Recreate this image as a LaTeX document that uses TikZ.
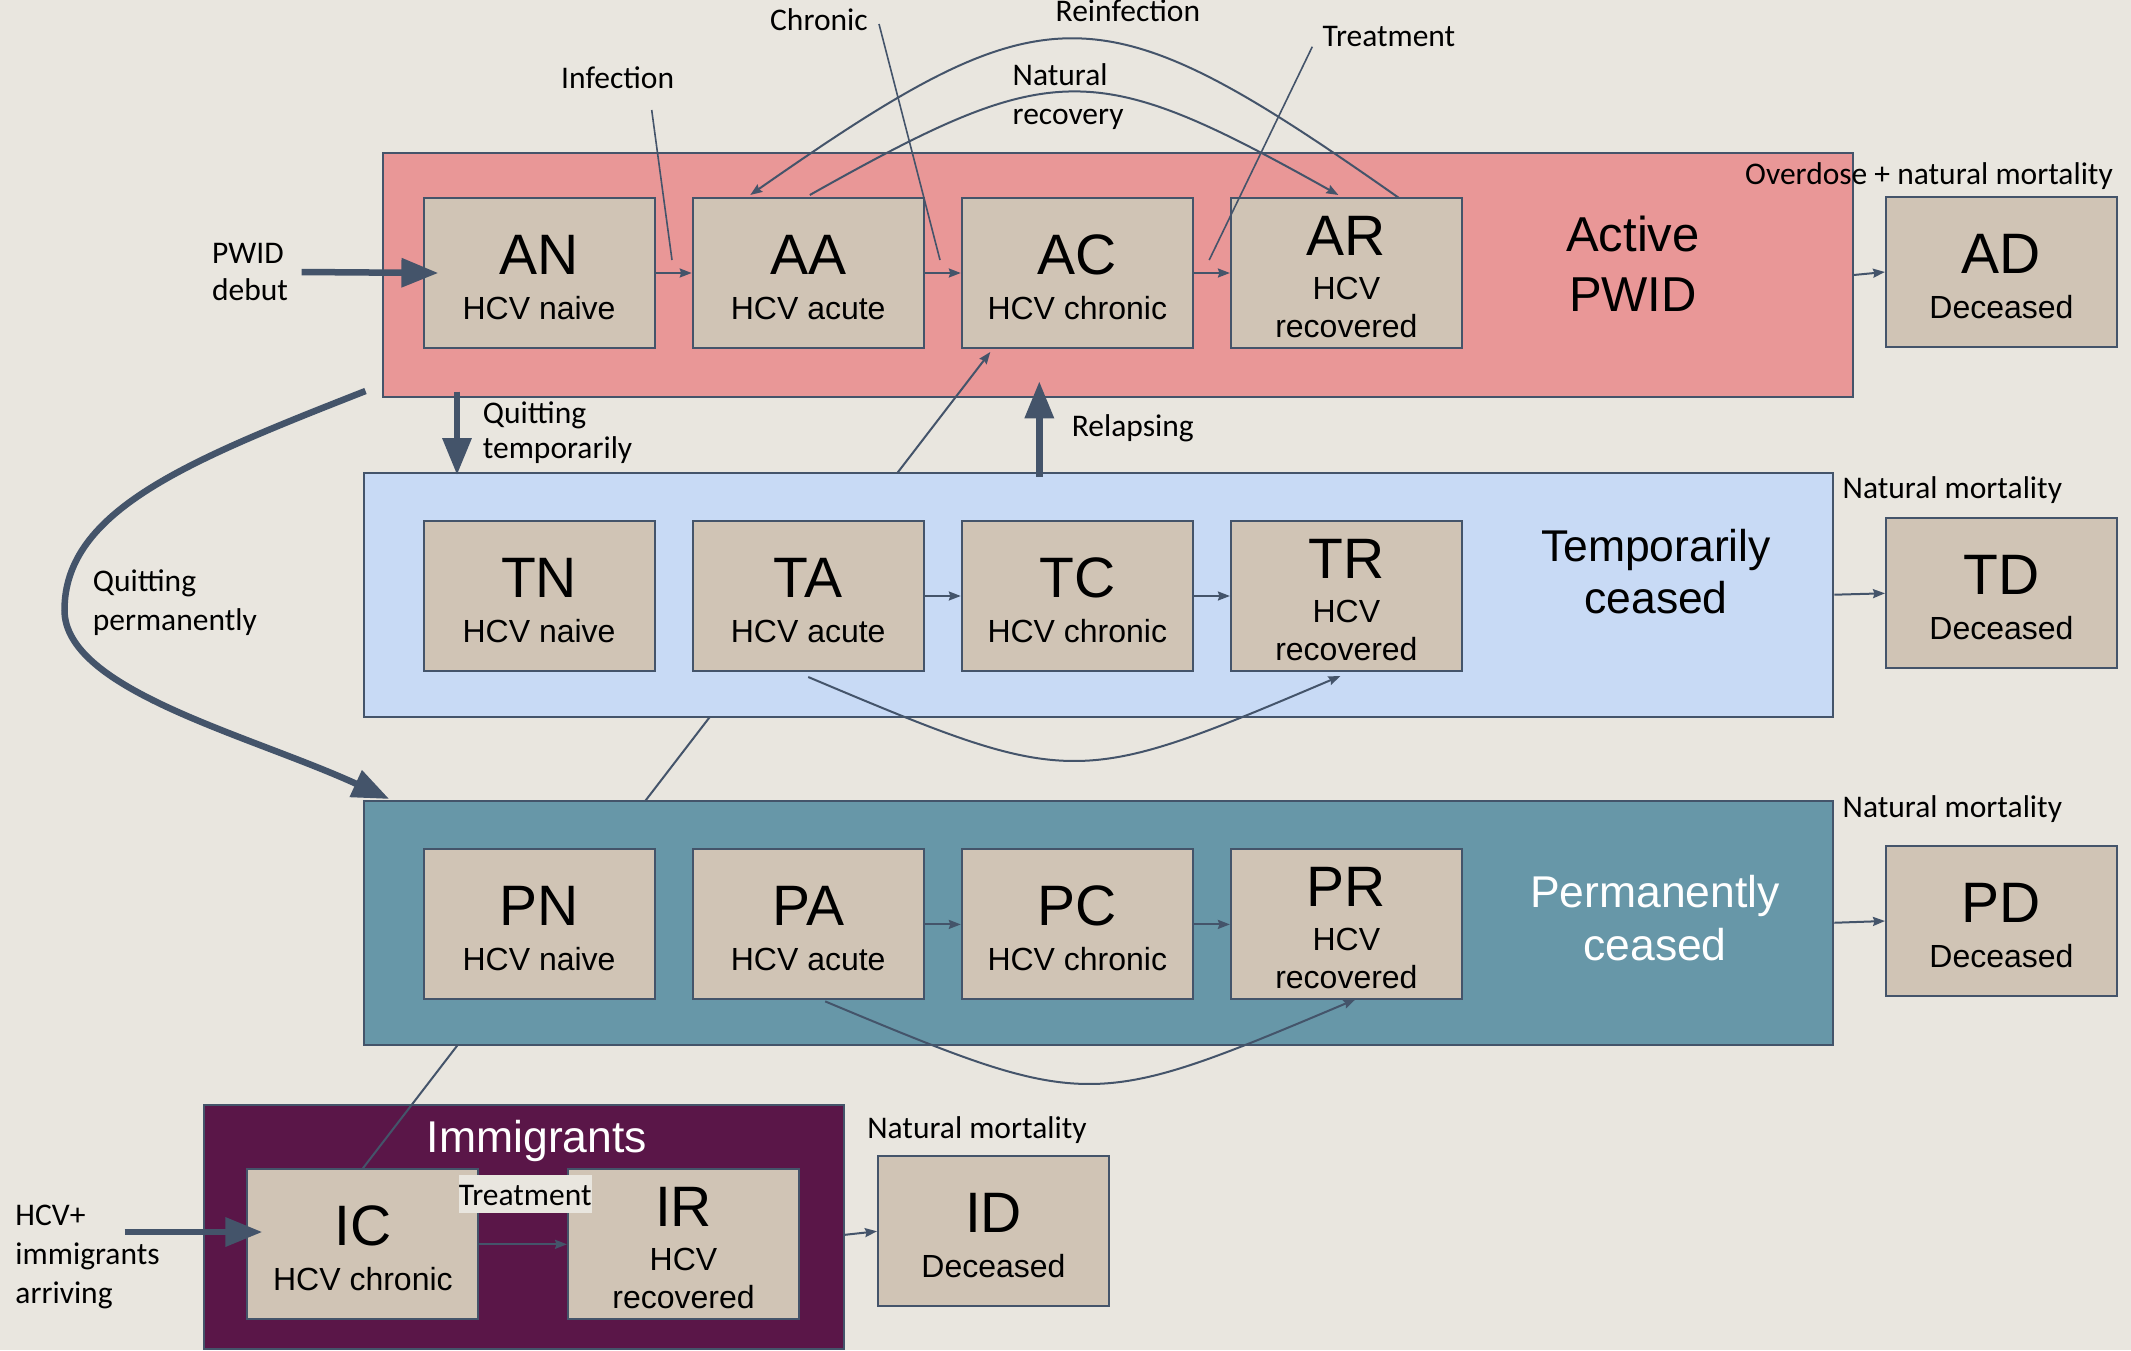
\documentclass[tikz,border=0pt]{standalone}
\usepackage{fontspec}
\setmainfont{Liberation Sans}
\newfontfamily\labf{Carlito}
\usetikzlibrary{arrows.meta}
\definecolor{bg}{HTML}{E9E6DF}
\definecolor{actf}{HTML}{E99797}
\definecolor{tmpf}{HTML}{C8DAF5}
\definecolor{prmf}{HTML}{6797A8}
\definecolor{immf}{HTML}{5A1648}
\definecolor{cmpf}{HTML}{D0C4B5}
\definecolor{edgec}{HTML}{44546A}
\newcommand\mystack[2]{\begin{tabular}[t]{@{}#1@{}}#2\end{tabular}}
\newcommand\comptwo[3]{%
  \node[bigt] (#1l) at ([yshift=-77pt]#1.north) {#2};
  \node[subt] (#1s) at ([yshift=-122pt]#1.north) {#3};}
\newcommand\compthree[2]{%
  \node[bigt] (#1l) at ([yshift=-58pt]#1.north) {#2};
  \node[subt] (#1h) at ([yshift=-102pt]#1.north) {HCV};
  \node[subt] (#1r) at ([yshift=-140pt]#1.north) {recovered};}
\begin{document}
\begin{tikzpicture}[x=1pt,y=-1pt,
 grp/.style={draw=edgec,line width=2pt,anchor=north west,inner sep=0pt},
 cmp/.style={draw=edgec,line width=2pt,fill=cmpf,anchor=north west,inner sep=0pt,minimum width=231pt,minimum height=150pt},
 bigt/.style={font=\fontsize{57}{60}\selectfont,anchor=base,inner sep=0pt},
 subt/.style={font=\fontsize{32}{36}\selectfont,anchor=base,inner sep=0pt},
 ttl/.style={anchor=base,inner sep=0pt},
 lab/.style={font=\labf\fontsize{31.5}{37}\selectfont,anchor=base west,inner sep=0pt},
 tarrow/.style={draw=edgec,line width=2pt,-{Stealth[length=12pt,width=9pt,inset=1.5pt]}},
 bigarrow/.style={draw=edgec,line width=6.5pt,-{Triangle[length=37pt,width=28pt]}},
 lline/.style={draw=edgec,line width=1.6pt},
]
\fill[bg] (0,0) rectangle (2131,1350);
\useasboundingbox (0,0) rectangle (2131,1350);

% group boxes drawn first
\node[grp,fill=actf,minimum width=1470pt,minimum height=244pt] (Act) at (381.6,152) {};
\node[grp,fill=immf,minimum width=640pt,minimum height=244pt] (Imm) at (202.8,1103.8) {};

% active row
\node[cmp] (AN) at (422.6,197) {};
\node[cmp] (AA) at (691.7,197) {};
\node[cmp] (AC) at (960.8,197) {};
\node[cmp] (AR) at (1229.9,197) {};
\node[cmp] (AD) at (1885,196) {};
% immigrant row
\node[cmp] (IC) at (246.4,1168.3) {};
\node[cmp] (IR) at (567,1168.3) {};
\node[cmp] (ID) at (877,1155.3) {};

% immigrant chronic to active chronic (passes under the ceased boxes)
\draw[tarrow] (IC.north) -- ([xshift=-87pt,yshift=-3pt]AC.south);

\node[grp,fill=tmpf,minimum width=1469.7pt,minimum height=244pt] (Tmp) at (362.7,471.7) {};
\node[grp,fill=prmf,minimum width=1469.7pt,minimum height=243.5pt] (Prm) at (362.7,800) {};

\node[cmp] (TN) at (422.6,520) {};
\node[cmp] (TA) at (691.7,520) {};
\node[cmp] (TC) at (960.8,520) {};
\node[cmp] (TR) at (1229.9,520) {};
\node[cmp] (TD) at (1885,517.3) {};

\node[cmp] (PN) at (422.6,848.4) {};
\node[cmp] (PA) at (691.7,848.4) {};
\node[cmp] (PC) at (960.8,848.4) {};
\node[cmp] (PR) at (1229.9,848.4) {};
\node[cmp] (PD) at (1885,845) {};

% compartment texts
\comptwo{AN}{AN}{HCV naive}
\comptwo{AA}{AA}{HCV acute}
\comptwo{AC}{AC}{HCV chronic}
\compthree{AR}{AR}
\comptwo{AD}{AD}{Deceased}
\comptwo{TN}{TN}{HCV naive}
\comptwo{TA}{TA}{HCV acute}
\comptwo{TC}{TC}{HCV chronic}
\compthree{TR}{TR}
\comptwo{TD}{TD}{Deceased}
\comptwo{PN}{PN}{HCV naive}
\comptwo{PA}{PA}{HCV acute}
\comptwo{PC}{PC}{HCV chronic}
\compthree{PR}{PR}
\comptwo{PD}{PD}{Deceased}
\comptwo{IC}{IC}{HCV chronic}
\compthree{IR}{IR}
\comptwo{ID}{ID}{Deceased}

% group titles
\node[ttl,font=\fontsize{49}{60}\selectfont] (actT) at (1633,251.7) {\mystack{c}{Active\\PWID}};
\node[ttl,font=\fontsize{44.5}{51.6}\selectfont] (tmpT) at (1656,561.7) {\mystack{c}{Temporarily\\ceased}};
\node[ttl,font=\fontsize{44.5}{53}\selectfont,text=white] (prmT) at (1655,907) {\mystack{c}{Permanently\\ceased}};
\node[ttl,font=\fontsize{44.5}{50}\selectfont,text=white] (immT) at (537,1152) {Immigrants};

% row arrows
\draw[tarrow] (AN.east) -- (AA.west);
\draw[tarrow] (AA.east) -- (AC.west);
\draw[tarrow] (AC.east) -- (AR.west);
\draw[tarrow] (TA.east) -- (TC.west);
\draw[tarrow] (TC.east) -- (TR.west);
\draw[tarrow] (PA.east) -- (PC.west);
\draw[tarrow] (PC.east) -- (PR.west);
\draw[tarrow] (IC.east) -- (IR.west);

% mortality arrows
\draw[tarrow] (Act.east) -- (AD.west);
\draw[tarrow] (Tmp.east) -- (TD.west);
\draw[tarrow] (Prm.east) -- (PD.west);
\draw[tarrow] ([yshift=-8pt]Imm.east) -- (ID.west);

% curved transitions
\draw[tarrow] ([xshift=52.6pt,yshift=-1pt]AR.north) .. controls (1098,-13.5) and (1049,-13.5) .. ([xshift=-58pt,yshift=2pt]AA.north);
\draw[tarrow] ([xshift=1.6pt,yshift=2pt]AA.north) .. controls (1054,57.7) and (1093,57.7) .. ([xshift=-8pt,yshift=2pt]AR.north);
\draw[tarrow] ([yshift=-5pt]TA.south) .. controls (1073,788.5) and (1075,788.5) .. ([xshift=-6pt,yshift=-4pt]TR.south);
\draw[tarrow] ([xshift=17pt,yshift=-1pt]PA.south) .. controls (1088.5,1111.2) and (1090,1111.2) .. ([xshift=9pt,yshift=1pt]PR.south);

% label pointer lines
\coordinate (infT) at (651.7,110);
\coordinate (infE) at (672,260);
\coordinate (chrT) at (879,24);
\coordinate (chrE) at (940,260);
\coordinate (trtT) at (1312.3,46.7);
\coordinate (trtE) at (1209.2,260);
\draw[lline] (infT) -- (infE);
\draw[lline] (chrT) -- (chrE);
\draw[lline] (trtT) -- (trtE);

% thick arrows
\coordinate (pwid) at (301.6,272);
\draw[bigarrow] (pwid) -- ([xshift=15.8pt]AN.west);
\coordinate (hcvp) at (124.7,1232);
\draw[bigarrow] (hcvp) -- ([xshift=16pt]IC.west |- hcvp);
\coordinate (qt) at (457,391.7);
\draw[bigarrow] (qt) -- ([yshift=-3.3pt]qt |- Tmp.north);
\coordinate (rl) at (1039.3,476.7);
\draw[bigarrow] (rl) -- ([yshift=16.7pt]rl |- Act.south);
\coordinate (qp) at (365.5,391);
\draw[bigarrow] (qp) .. controls (190,460) and (64.5,510) .. (64.5,610) .. controls (64.5,690) and (250,735) .. ([xshift=26.6pt,yshift=1pt]Prm.north west);

% labels
\node[lab] (lPWID) at (211.9,263.3) {\mystack{l}{PWID\\debut}};
\node[lab] (lInf) at (561,88.3) {Infection};
\node[lab] (lChr) at (770,30) {Chronic};
\node[lab] (lRei) at (1055.5,21.7) {Reinfection};
\node[lab,font=\labf\fontsize{31.5}{39}\selectfont] (lNat) at (1012.5,85) {\mystack{l}{Natural\\recovery}};
\node[lab] (lTrt) at (1322.4,46.7) {Treatment};
\node[lab] (lOD) at (1745,184) {Overdose + natural mortality};
\node[lab,font=\labf\fontsize{31.5}{35}\selectfont] (lQT) at (482.7,423.3) {\mystack{l}{Quitting\\temporarily}};
\node[lab] (lRel) at (1071.7,436.7) {Relapsing};
\node[lab] (lNMT) at (1842.5,498.3) {Natural mortality};
\node[lab] (lNMP) at (1842.5,817.7) {Natural mortality};
\node[lab,font=\labf\fontsize{31.5}{38.3}\selectfont] (lQP) at (92.6,591.7) {\mystack{l}{Quitting\\permanently}};
\node[lab] (lNMI) at (867.1,1138.5) {Natural mortality};
\node[lab,font=\labf\fontsize{31.5}{39}\selectfont] (lHCV) at (15.3,1225.5) {\mystack{l}{HCV+\\immigrants\\arriving}};
\node[font=\labf\fontsize{31.5}{37}\selectfont,fill=bg,inner xsep=0pt,inner ysep=0pt,text height=30pt,text depth=8.3pt,anchor=base] (trI) at (525.2,1205) {Treatment};
\end{tikzpicture}
\end{document}
